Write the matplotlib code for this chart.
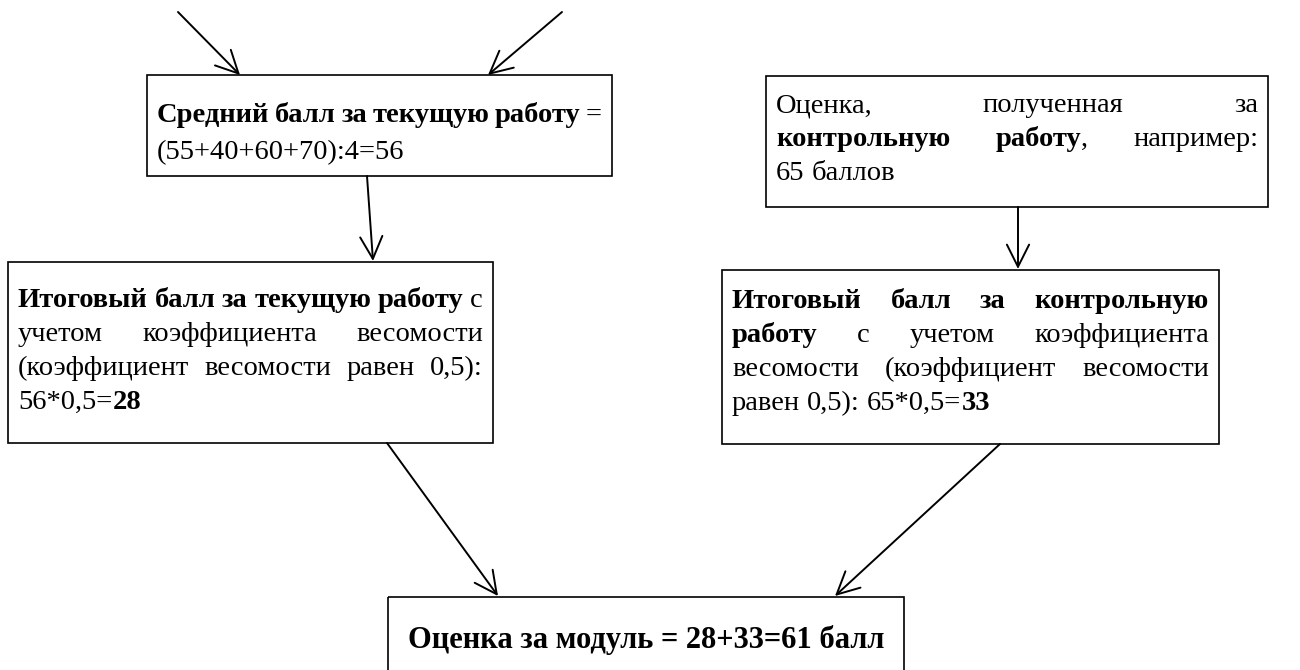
import matplotlib
matplotlib.use("Agg")
import matplotlib.pyplot as plt
from matplotlib.patches import Rectangle, FancyArrowPatch

# box texts, "**" toggles bold; last line of each box is not justified
box1_lines = ["**Средний балл за текущую работу** =",
              "(55+40+60+70):4=56"]
box2_lines = ["Оценка, полученная за",
              "**контрольную работу**, например:",
              "65 баллов"]
box3_lines = ["**Итоговый балл за текущую работу** с",
              "учетом коэффициента весомости",
              "(коэффициент весомости равен 0,5):",
              "56*0,5=**28**"]
box4_lines = ["**Итоговый балл за контрольную**",
              "**работу** с учетом коэффициента",
              "весомости (коэффициент весомости",
              "равен 0,5): 65*0,5=**33**"]
result_text = "Оценка за модуль = 28+33=61 балл"

# layout in pixels (x0, y0, x1, y1), y downwards
box_rects = {
    "b1": (147, 75, 612, 176),
    "b2": (766, 76, 1268, 207),
    "b3": (8, 262, 493, 443),
    "b4": (722, 270, 1219, 444),
    "b5": (388, 597, 904, 690),
}
first_line = {"b1": 115, "b2": 105, "b3": 300, "b4": 301}
line_step = {"b1": 37, "b2": 34, "b3": 34, "b4": 34}
pad = 10
arrows = [((178, 12), (240, 75)),
          ((562, 12), (488, 75)),
          ((367, 176), (373, 261)),
          ((1018, 207), (1018, 269)),
          ((387, 443), (498, 596)),
          ((1000, 444), (835, 596))]

FONT = "Liberation Serif"
FS = 20.5

fig = plt.figure(figsize=(13, 6.7), dpi=100)
ax = fig.add_axes([0, 0, 1, 1])
ax.set_xlim(0, 1300)
ax.set_ylim(670, 0)
ax.axis("off")
renderer = fig.canvas.get_renderer()


def text_width(s, bold, size=FS):
    t = ax.text(0, 0, s, fontsize=size, family=FONT,
                fontweight="bold" if bold else "normal")
    w = t.get_window_extent(renderer).width
    t.remove()
    return w


def parse(line):
    # split into words, each word a list of (piece, bold)
    words, cur, piece, bold = [], [], "", False
    i = 0
    while i < len(line):
        if line.startswith("**", i):
            if piece:
                cur.append((piece, bold))
                piece = ""
            bold = not bold
            i += 2
            continue
        c = line[i]
        if c == " ":
            if piece:
                cur.append((piece, bold))
                piece = ""
            if cur:
                words.append(cur)
                cur = []
        else:
            piece += c
        i += 1
    if piece:
        cur.append((piece, bold))
    if cur:
        words.append(cur)
    return words


space_w = text_width("x x", False) - text_width("xx", False)


def draw_box(key, lines):
    x0, y0, x1, y1 = box_rects[key]
    avail = (x1 - x0) - 2 * pad
    for n, line in enumerate(lines):
        words = parse(line)
        widths = [sum(text_width(p, b) for p, b in w) for w in words]
        last = n == len(lines) - 1
        if last or len(words) < 2:
            gap = space_w
        else:
            gap = (avail - sum(widths)) / (len(words) - 1)
        x = x0 + pad
        base = first_line[key] + n * line_step[key] + 7
        for w, ww in zip(words, widths):
            xx = x
            for p, b in w:
                ax.text(xx, base, p, fontsize=FS, family=FONT,
                        fontweight="bold" if b else "normal",
                        ha="left", va="baseline", color="black")
                xx += text_width(p, b)
            x += ww + gap


for key, (x0, y0, x1, y1) in box_rects.items():
    ax.add_patch(Rectangle((x0, y0), x1 - x0, y1 - y0, fill=False,
                           edgecolor="black", linewidth=1.2))

draw_box("b1", box1_lines)
draw_box("b2", box2_lines)
draw_box("b3", box3_lines)
draw_box("b4", box4_lines)

bx0, by0, bx1, by1 = box_rects["b5"]
ax.text((bx0 + bx1) / 2, 640, result_text, fontsize=22, family=FONT,
        fontweight="bold", ha="center", va="center", color="black")

for start, end in arrows:
    ax.add_patch(FancyArrowPatch(start, end,
                                 arrowstyle="->,head_length=0.8,head_width=0.4",
                                 mutation_scale=20, linewidth=1.4,
                                 color="black", shrinkA=0, shrinkB=0))

fig.savefig("out.png", dpi=100)
